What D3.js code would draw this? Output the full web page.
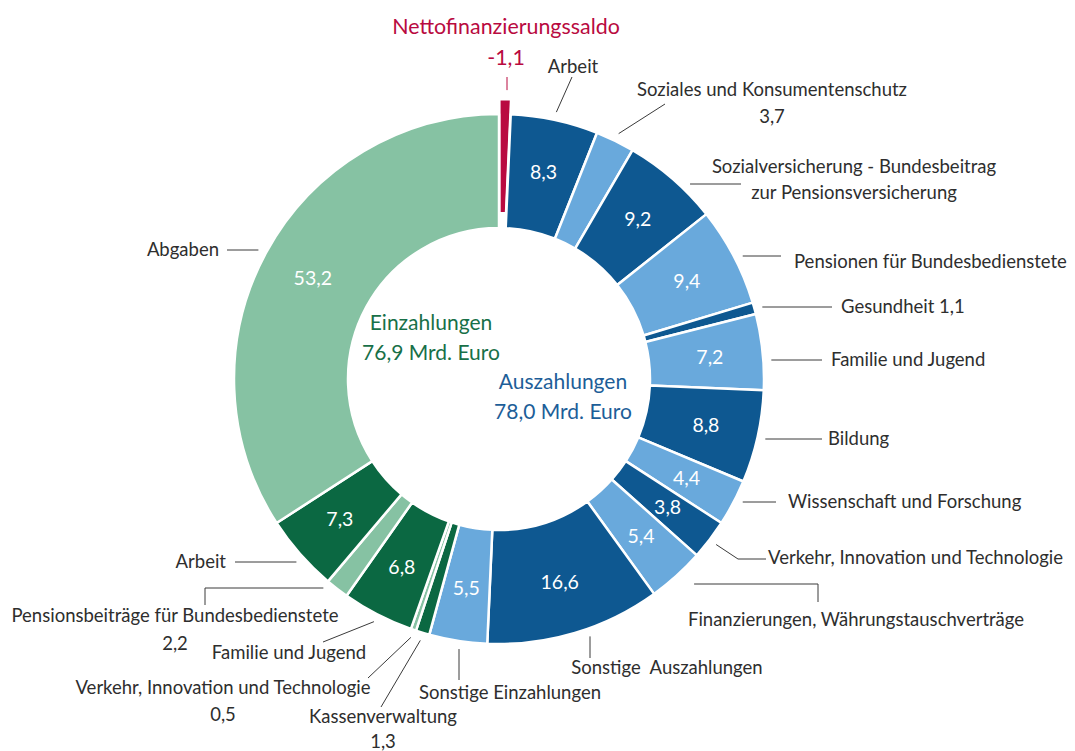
<!DOCTYPE html>
<html>
<head>
<meta charset="utf-8">
<title>Einzahlungen und Auszahlungen</title>
<script src="https://d3js.org/d3.v7.min.js"></script>
<style>
  body { margin: 0; background: #fff; }
  svg text { font-family: Lato, "Noto Sans", sans-serif; white-space: pre; }
</style>
</head>
<body>
<div id="chart"></div>
<script>
// slices, clockwise from 12 o'clock (Mrd. Euro)
var categories = [
  "Nettofinanzierungssaldo",
  "Arbeit",
  "Soziales und Konsumentenschutz",
  "Sozialversicherung - Bundesbeitrag\nzur Pensionsversicherung",
  "Pensionen für Bundesbedienstete",
  "Gesundheit",
  "Familie und Jugend",
  "Bildung",
  "Wissenschaft und Forschung",
  "Verkehr, Innovation und Technologie",
  "Finanzierungen, Währungstauschverträge",
  "Sonstige  Auszahlungen",
  "Sonstige Einzahlungen",
  "Kassenverwaltung",
  "Verkehr, Innovation und Technologie",
  "Familie und Jugend",
  "Pensionsbeiträge für Bundesbedienstete",
  "Arbeit",
  "Abgaben"
];
var values = [-1.1, 8.3, 3.7, 9.2, 9.4, 1.1, 7.2, 8.8, 4.4, 3.8, 5.4, 16.6,
              5.5, 1.3, 0.5, 6.8, 2.2, 7.3, 53.2];
var groups = ["saldo", "aus", "aus", "aus", "aus", "aus", "aus", "aus", "aus", "aus", "aus", "aus",
              "ein", "ein", "ein", "ein", "ein", "ein", "ein"];
var centerTitles = ["Einzahlungen", "Auszahlungen"];
var centerTotals = [76.9, 78.0];

// styles
var darkBlue = "#0e5891", lightBlue = "#69a9dc", darkGreen = "#0b6842", lightGreen = "#86c2a3", crimson = "#b90a40";
var sliceColors = [crimson,
  darkBlue, lightBlue, darkBlue, lightBlue, darkBlue, lightBlue, darkBlue, lightBlue, darkBlue, lightBlue, darkBlue,
  lightBlue, darkGreen, lightGreen, darkGreen, lightGreen, darkGreen, lightGreen];

// label placement (page coordinates); leader starts at the ring, then runs through the points
var labelLayout = [
  {x: 506, y: 27, anchor: "middle", value: "below", gap: 31, snap: "v", off: 24, leader: [[507, 77]], fill: crimson},
  {x: 573, y: 67, anchor: "middle", leader: [[572, 77]]},
  {x: 772, y: 90, anchor: "middle", value: "below", gap: 27, leader: [[665, 104]]},
  {x: 854, y: 167, anchor: "middle", gap: 26, snap: "h", leader: [[741, 184]]},
  {x: 794, y: 262, anchor: "start", snap: "h", leader: [[781, 256]]},
  {x: 841, y: 307, anchor: "start", value: "after", snap: "h", leader: [[832, 307]]},
  {x: 831, y: 360, anchor: "start", snap: "h", leader: [[822, 360]]},
  {x: 828, y: 439, anchor: "start", snap: "h", leader: [[822, 439]]},
  {x: 788, y: 502, anchor: "start", snap: "h", leader: [[776, 502]]},
  {x: 768, y: 558, anchor: "start", leader: [[738, 559], [766, 559]]},
  {x: 856, y: 620, anchor: "middle", snap: "h", off: 18, leader: [[818, 584], [818, 602]]},
  {x: 667, y: 668, anchor: "middle", snap: "v", leader: [[590, 658]]},
  {x: 510, y: 693, anchor: "middle", snap: "v", leader: [[459, 680]]},
  {x: 383, y: 717, anchor: "middle", value: "below", gap: 25, leader: [[381, 707]]},
  {x: 223, y: 688, anchor: "middle", value: "below", gap: 27, leader: [[368, 678]]},
  {x: 289, y: 653, anchor: "middle", leader: [[323, 642]]},
  {x: 175, y: 616, anchor: "middle", value: "below", gap: 28, snap: "h", leader: [[205, 588], [205, 605]]},
  {x: 226, y: 562, anchor: "end", snap: "h", leader: [[235, 562]]},
  {x: 219, y: 250, anchor: "end", snap: "h", leader: [[227, 250]]}
];

var width = 1075, height = 751;
var cx = 499, cy = 379, outerR = 265, innerR = 151, explode = 15;
var textColor = "#2e2e2e";

var fmt = d3.formatLocale({decimal: ",", thousands: ".", grouping: [3], currency: ["", " €"], minus: "-"}).format(".1f");

var svg = d3.select("#chart")
    .append("svg")
    .attr("width", width)
    .attr("height", height);

var g = svg.append("g").attr("transform", "translate(" + cx + "," + cy + ")");

var rows = categories.map(function(c, i) { return {name: c, value: values[i], group: groups[i], i: i}; });

var pie = d3.pie()
    .sort(null)
    .value(function(d) { return Math.abs(d.value); });
var arcs = pie(rows);

var arc = d3.arc().innerRadius(innerR).outerRadius(outerR);
var labelArc = d3.arc().innerRadius(212).outerRadius(212);

function midAngle(d) { return (d.startAngle + d.endAngle) / 2; }
function shift(d) {
  if (d.data.group !== "saldo") return [0, 0];
  var a = midAngle(d);
  return [explode * Math.sin(a), -explode * Math.cos(a)];
}

// slices
g.selectAll("path.slice")
    .data(arcs)
    .enter()
    .append("path")
    .attr("class", "slice")
    .attr("d", arc)
    .attr("transform", function(d) { var s = shift(d); return "translate(" + s[0] + "," + s[1] + ")"; })
    .attr("fill", function(d) { return sliceColors[d.data.i]; })
    .attr("stroke", "#fff")
    .attr("stroke-width", 2.5)
    .attr("stroke-linejoin", "round");

// values inside the ring
g.selectAll("text.inner")
    .data(arcs.filter(function(d) { return !labelLayout[d.data.i].value; }))
    .enter()
    .append("text")
    .attr("class", "inner")
    .attr("transform", function(d) { return "translate(" + labelArc.centroid(d) + ")"; })
    .attr("dy", "0.35em")
    .attr("text-anchor", "middle")
    .attr("fill", "#fff")
    .attr("font-size", 19.5)
    .text(function(d) { return fmt(d.data.value); });

// leader lines
function leaderStart(d, L) {
  var a = midAngle(d);
  var r = outerR + (L.off || 8);
  var p = L.leader[0];
  if (L.snap === "h") {
    var dy = p[1] - cy;
    var dx = Math.sqrt(Math.max(r * r - dy * dy, 0));
    return [Math.sin(a) < 0 ? cx - dx : cx + dx, p[1]];
  }
  if (L.snap === "v") {
    var dx2 = p[0] - cx;
    var dy2 = Math.sqrt(Math.max(r * r - dx2 * dx2, 0));
    return [p[0], Math.cos(a) > 0 ? cy - dy2 : cy + dy2];
  }
  return [cx + r * Math.sin(a), cy - r * Math.cos(a)];
}

var line = d3.line();
svg.selectAll("path.leader")
    .data(arcs)
    .enter()
    .append("path")
    .attr("class", "leader")
    .attr("d", function(d) {
      var L = labelLayout[d.data.i];
      return line([leaderStart(d, L)].concat(L.leader));
    })
    .attr("fill", "none")
    .attr("stroke", function(d) { return labelLayout[d.data.i].fill ? labelLayout[d.data.i].fill : "#3a3a3a"; })
    .attr("stroke-width", 1);

// outer labels
var labels = svg.selectAll("text.label")
    .data(arcs)
    .enter()
    .append("text")
    .attr("class", "label")
    .attr("text-anchor", function(d) { return labelLayout[d.data.i].anchor; })
    .attr("fill", function(d) { return labelLayout[d.data.i].fill || textColor; })
    .attr("font-size", function(d) { return d.data.group === "saldo" ? 21.4 : 18.5; });

labels.each(function(d) {
  var L = labelLayout[d.data.i];
  var lines = d.data.name.split("\n");
  var v = fmt(d.data.value);
  if (L.value === "after") lines[lines.length - 1] += " " + v;
  if (L.value === "below") lines.push(v);
  var t = d3.select(this);
  lines.forEach(function(s, k) {
    t.append("tspan")
      .attr("x", L.x)
      .attr("y", L.y + k * (L.gap || 26))
      .attr("dy", "0.35em")
      .text(s);
  });
});

// totals in the centre
var centerText = [
  {x: 431, y: 323, color: "#187048", lines: [centerTitles[0], fmt(centerTotals[0]) + " Mrd. Euro"]},
  {x: 563, y: 382, color: "#1d5e98", lines: [centerTitles[1], fmt(centerTotals[1]) + " Mrd. Euro"]}
];
centerText.forEach(function(c) {
  var t = svg.append("text")
      .attr("text-anchor", "middle")
      .attr("fill", c.color)
      .attr("font-size", 21);
  c.lines.forEach(function(s, k) {
    t.append("tspan").attr("x", c.x).attr("y", c.y + k * 30).attr("dy", "0.35em").text(s);
  });
});
</script>
</body>
</html>
